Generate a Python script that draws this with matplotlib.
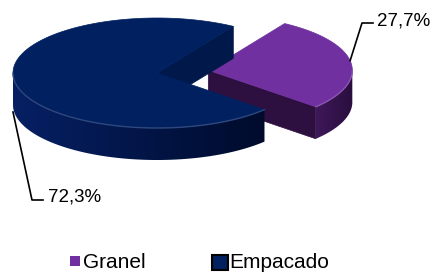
import numpy as np
import matplotlib
matplotlib.use("Agg")
import matplotlib.pyplot as plt
from matplotlib.patches import Polygon, Rectangle
from matplotlib.colors import to_rgb

# dados
categorias = ["Granel", "Empacado"]
valores = [27.7, 72.3]
rotulos = ["27,7%", "72,3%"]
cores_topo = ["#7030a0", "#002060"]
cores_lado = [("#3e185a", "#2a0e3e"), ("#062064", "#000b2c")]
cores_face = ["#2e1040", "#00184a"]
explode = [0.36, 0.0]

plt.rcParams['font.family'] = ['Liberation Sans', 'DejaVu Sans']

# geometria (pixels)
CX, CY = 157, 73
RX, RY = 144, 55
DEPTH = 32
START = 58.0

fig = plt.figure(figsize=(4.33, 2.73), dpi=100)
ax = fig.add_axes([0, 0, 1, 1])
ax.set_xlim(0, 433)
ax.set_ylim(273, 0)
ax.axis('off')


def pt(cx, cy, ang, dz=0):
    a = np.radians(ang)
    return cx + RX * np.cos(a), cy - RY * np.sin(a) + dz


def mix(c1, c2, t):
    c1, c2 = np.array(to_rgb(c1)), np.array(to_rgb(c2))
    return tuple(c1 + (c2 - c1) * t)


def gradiente(poly, c1, c2, z):
    # preenche o poligono com degrade horizontal (c1 a esquerda, c2 a direita)
    xs = [p[0] for p in poly]
    ys = [p[1] for p in poly]
    x0, x1, y0, y1 = min(xs), max(xs), min(ys), max(ys)
    t = np.linspace(0, 1, 256)
    a, b = np.array(to_rgb(c1)), np.array(to_rgb(c2))
    img = (a[None, :] + (b - a)[None, :] * t[:, None])[None, :, :]
    patch = Polygon(poly, closed=True, fc='none', ec='none')
    ax.add_patch(patch)
    im = ax.imshow(img, extent=(x0, x1, y1, y0), aspect='auto', zorder=z,
                   interpolation='bilinear')
    im.set_clip_path(patch)


def fatia(cx, cy, a1, a2, topo, lados, face, z):
    # faces radiais visiveis
    for ang, sinal in ((a1, -90), (a2, 90)):
        if np.sin(np.radians(ang + sinal)) < 0:
            p1 = pt(cx, cy, ang)
            poly = [(cx, cy), p1, (p1[0], p1[1] + DEPTH), (cx, cy + DEPTH)]
            ax.add_patch(Polygon(poly, closed=True, fc=face, ec=face, lw=0.5, zorder=z))
    # parede externa (parte frontal)
    for k in range(-1, 2):
        lo = max(a1, 180 + 360 * k)
        hi = min(a2, 360 + 360 * k)
        if hi <= lo:
            continue
        angs = np.linspace(lo, hi, 120)
        topo_arco = [pt(cx, cy, a) for a in angs]
        base_arco = [pt(cx, cy, a, DEPTH) for a in angs[::-1]]
        gradiente(topo_arco + base_arco, lados[0], lados[1], z + 1)
        arco = np.array(topo_arco)
        ax.plot(arco[:, 0], arco[:, 1], color=mix(topo, "#ffffff", 0.18), lw=1.0,
                zorder=z + 3, solid_capstyle='round')
    # topo
    angs = np.linspace(a1, a2, 200)
    poly = [(cx, cy)] + [pt(cx, cy, a) for a in angs]
    ax.add_patch(Polygon(poly, closed=True, fc=topo, ec=topo, lw=0.5, zorder=z + 2))


total = sum(valores)
ang = START
limites = []
for v in valores:
    span = v / total * 360
    limites.append((ang - span, ang))
    ang -= span

centros = []
for i, (a1, a2) in enumerate(limites):
    meio = np.radians((a1 + a2) / 2)
    cx = CX + explode[i] * RX * np.cos(meio)
    cy = CY - explode[i] * RY * np.sin(meio)
    centros.append((cx, cy))

# Granel primeiro (fica atras), depois Empacado
for i, z in ((0, 1), (1, 10)):
    a1, a2 = limites[i]
    fatia(centros[i][0], centros[i][1], a1, a2, cores_topo[i], cores_lado[i], cores_face[i], z)

# rotulos com linhas de chamada
x0, y0 = pt(centros[0][0], centros[0][1], 10)
ax.plot([x0, 362, 373], [y0, 23, 23], color='black', lw=1.2, zorder=20)
ax.text(377, 25, rotulos[0], fontsize=13.5, ha='left', va='baseline', zorder=20)

x1, y1 = pt(centros[1][0], centros[1][1], 180, DEPTH + 7)
ax.plot([x1, 32, 43], [y1, 200, 200], color='black', lw=1.2, zorder=20)
ax.text(48, 201, rotulos[1], fontsize=13.5, ha='left', va='baseline', zorder=20)

# legenda
ax.add_patch(Rectangle((70, 256), 10, 10, fc=cores_topo[0], ec='none', zorder=20))
ax.text(83, 268, categorias[0], fontsize=15, ha='left', va='baseline', zorder=20)
ax.add_patch(Rectangle((212, 255), 16, 15, fc=cores_topo[1], ec='black', lw=1.5, zorder=20))
ax.text(229, 268, categorias[1], fontsize=15, ha='left', va='baseline', zorder=20)

fig.savefig("out.png", dpi=100)
